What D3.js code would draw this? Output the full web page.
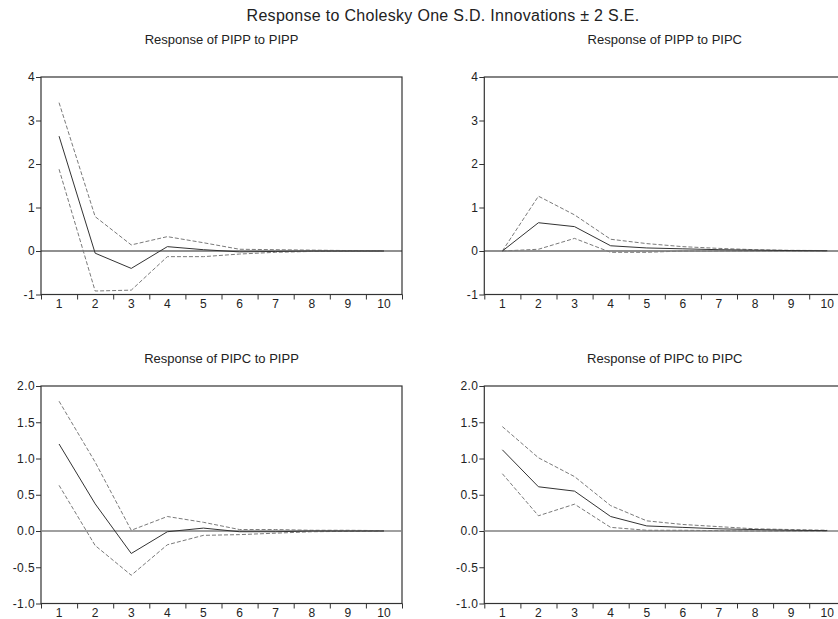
<!DOCTYPE html>
<html>
<head>
<meta charset="utf-8">
<script src="https://cdn.jsdelivr.net/npm/d3@7"></script>
<style>
  body { margin: 0; background: #fff; }
  svg { display: block; font-family: "Liberation Sans", Arial, sans-serif; }
</style>
</head>
<body>
<svg id="chart" width="838" height="619"></svg>
<script>
// periods after the shock
var periods = [1, 2, 3, 4, 5, 6, 7, 8, 9, 10];

// Response of PIPP to PIPP
var pippPippResp  = [2.64, -0.05, -0.40, 0.10, 0.03, -0.02, -0.01, 0.00, 0.00, 0.00];
var pippPippUpper = [3.41, 0.79, 0.14, 0.33, 0.19, 0.04, 0.03, 0.02, 0.01, 0.005];
var pippPippLower = [1.88, -0.92, -0.90, -0.13, -0.13, -0.07, -0.03, -0.01, -0.005, 0.00];

// Response of PIPP to PIPC
var pippPipcResp  = [0.00, 0.65, 0.56, 0.12, 0.07, 0.05, 0.03, 0.02, 0.01, 0.005];
var pippPipcUpper = [0.00, 1.26, 0.83, 0.27, 0.17, 0.10, 0.06, 0.03, 0.015, 0.01];
var pippPipcLower = [0.00, 0.04, 0.29, -0.03, -0.03, 0.00, 0.00, 0.00, 0.00, 0.00];

// Response of PIPC to PIPP
var pipcPippResp  = [1.20, 0.375, -0.31, -0.01, 0.04, -0.01, -0.01, 0.00, 0.00, 0.00];
var pipcPippUpper = [1.79, 0.95, 0.01, 0.20, 0.12, 0.02, 0.02, 0.01, 0.01, 0.005];
var pipcPippLower = [0.63, -0.20, -0.61, -0.19, -0.06, -0.05, -0.03, -0.01, -0.005, 0.00];

// Response of PIPC to PIPC
var pipcPipcResp  = [1.12, 0.61, 0.55, 0.20, 0.07, 0.05, 0.03, 0.02, 0.01, 0.005];
var pipcPipcUpper = [1.44, 1.01, 0.75, 0.35, 0.14, 0.09, 0.06, 0.03, 0.02, 0.01];
var pipcPipcLower = [0.79, 0.21, 0.37, 0.05, 0.01, 0.01, 0.005, 0.00, 0.00, 0.00];

var topTicks = [-1, 0, 1, 2, 3, 4];
var bottomTicks = [-1.0, -0.5, 0.0, 0.5, 1.0, 1.5, 2.0];

var mainTitle = "Response to Cholesky One S.D. Innovations \u00b1 2 S.E.";

var plotW = 361, plotH = 217.5;

var panels = [
  {title: "Response of PIPP to PIPP", resp: pippPippResp, upper: pippPippUpper, lower: pippPippLower,
   ticks: topTicks, fmt: function (d) { return String(d); }, x: 41, y: 77, zeroColor: "#222"},
  {title: "Response of PIPP to PIPC", resp: pippPipcResp, upper: pippPipcUpper, lower: pippPipcLower,
   ticks: topTicks, fmt: function (d) { return String(d); }, x: 484.3, y: 77, zeroColor: "#222"},
  {title: "Response of PIPC to PIPP", resp: pipcPippResp, upper: pipcPippUpper, lower: pipcPippLower,
   ticks: bottomTicks, fmt: function (d) { return d.toFixed(1); }, x: 41, y: 386, zeroColor: "#808080"},
  {title: "Response of PIPC to PIPC", resp: pipcPipcResp, upper: pipcPipcUpper, lower: pipcPipcLower,
   ticks: bottomTicks, fmt: function (d) { return d.toFixed(1); }, x: 484.3, y: 386, zeroColor: "#808080"}
];

var svg = d3.select("#chart");

svg.append("text")
  .attr("x", 443)
  .attr("y", 21)
  .attr("text-anchor", "middle")
  .style("font-size", "16px")
  .style("letter-spacing", "0.3px")
  .attr("fill", "#222")
  .text(mainTitle);

panels.forEach(function (p) {
  var g = svg.append("g").attr("transform", "translate(" + p.x + "," + p.y + ")");

  var xBand = d3.scaleBand().domain(periods).range([0, plotW]);
  var xPt = d3.scalePoint().domain(periods).range([0, plotW]).padding(0.5);
  var xEdge = d3.scaleLinear().domain([0.5, 10.5]).range([0, plotW]);
  var y = d3.scaleLinear().domain(d3.extent(p.ticks)).range([plotH, 0]);

  g.append("text")
    .attr("x", plotW / 2)
    .attr("y", p.y < 200 ? -33 : -23)
    .attr("text-anchor", "middle")
    .style("font-size", "13px")
    .attr("fill", "#222")
    .text(p.title);

  // y axis
  var ya = g.append("g")
    .call(d3.axisLeft(y).tickValues(p.ticks).tickSize(5).tickPadding(1).tickFormat(p.fmt));
  ya.select(".domain").remove();
  ya.selectAll("line").attr("stroke", "#333");
  ya.selectAll("text").style("font-size", "12px").style("letter-spacing", "0.4px")
    .attr("fill", "#222").attr("font-family", null);

  // x ticks on band edges
  var edges = [0.5, 1.5, 2.5, 3.5, 4.5, 5.5, 6.5, 7.5, 8.5, 9.5, 10.5];
  var xe = g.append("g")
    .attr("transform", "translate(0," + plotH + ")")
    .call(d3.axisBottom(xEdge).tickValues(edges).tickSize(5).tickFormat(""));
  xe.select(".domain").remove();
  xe.selectAll("line").attr("stroke", "#333");

  // x labels at band centres
  var xl = g.append("g")
    .attr("transform", "translate(0," + plotH + ")")
    .call(d3.axisBottom(xBand).tickSize(0).tickPadding(5));
  xl.select(".domain").remove();
  xl.selectAll("text").style("font-size", "12px").attr("fill", "#222").attr("font-family", null);

  // frame
  g.append("rect")
    .attr("x", 0).attr("y", 0)
    .attr("width", plotW).attr("height", plotH)
    .attr("fill", "none")
    .attr("stroke", "#333")
    .attr("stroke-width", 1.2);

  // zero line
  g.append("line")
    .attr("x1", 0).attr("x2", plotW)
    .attr("y1", y(0)).attr("y2", y(0))
    .attr("stroke", p.zeroColor)
    .attr("stroke-width", p.zeroColor === "#222" ? 1.2 : 1.6);

  var line = d3.line()
    .x(function (d, i) { return xPt(periods[i]); })
    .y(function (d) { return y(d); });

  [p.upper, p.lower].forEach(function (band) {
    g.append("path")
      .datum(band)
      .attr("d", line)
      .attr("fill", "none")
      .attr("stroke", "#7a7a7a")
      .attr("stroke-width", 1)
      .attr("stroke-dasharray", "4,2");
  });

  g.append("path")
    .datum(p.resp)
    .attr("d", line)
    .attr("fill", "none")
    .attr("stroke", "#333")
    .attr("stroke-width", 1);
});
</script>
</body>
</html>
